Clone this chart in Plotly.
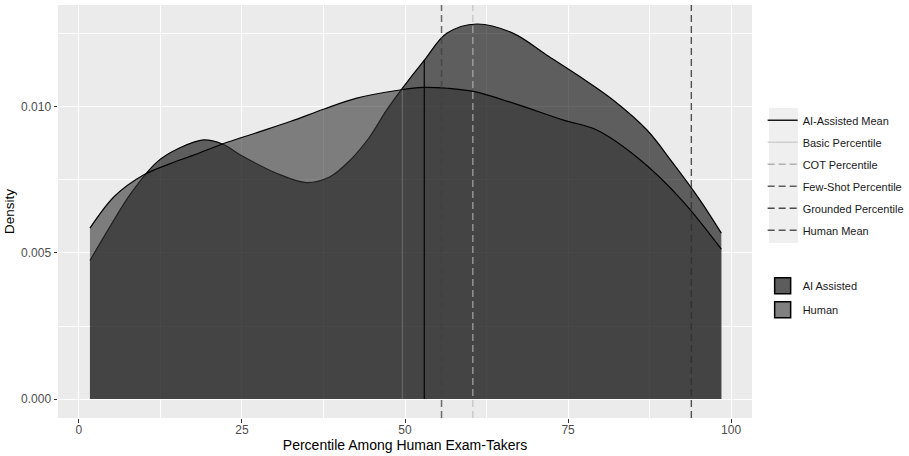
import plotly.graph_objects as go

# ---- data ----
ai_x = [1.7, 4.5, 8.0, 12.0, 15.5, 19.1, 22.0, 25.2, 30.3, 34.9, 38.5, 41.6, 44.6, 47.2, 49.5,
        53.0, 56.4, 61.0, 66.6, 71.7, 76.8, 81.9, 87.1, 91.0, 95.2, 98.5]
ai_y = [0.00474, 0.0058, 0.00705, 0.00812, 0.00860, 0.00887, 0.00873, 0.0083, 0.00773, 0.00741,
        0.00761, 0.00818, 0.00898, 0.0099, 0.01061, 0.01161, 0.01252, 0.01284, 0.01252,
        0.01178, 0.01104, 0.01024, 0.00921, 0.0081, 0.00682, 0.00568]

hu_x = [1.7, 5.5, 9.9, 14.0, 17.5, 22.0, 27.0, 32.4, 37.5, 42.6, 49.2, 52.8, 56.5, 60.5,
        66.6, 74.3, 79.4, 86.0, 92.4, 98.5]
hu_y = [0.00585, 0.00695, 0.00767, 0.00806, 0.00834, 0.00873, 0.0091, 0.0095,
        0.00992, 0.0103, 0.01058, 0.01067, 0.01064, 0.01053, 0.01013, 0.00955, 0.00921,
        0.0082, 0.00682, 0.00513]

line_names = ["AI-Assisted Mean", "Basic Percentile", "COT Percentile",
              "Few-Shot Percentile", "Grounded Percentile", "Human Mean"]
line_x = [52.96, 49.6, 60.4, 55.6, 93.9, 55.6]
# height of segment (None = full panel height)
line_top = [0.01161, 0.0106, None, None, None, None]

density_names = ["AI Assisted", "Human"]

x_range = [-3.2, 103.2]
y_range = [-0.00065, 0.01349]

# ---- styles ----
FONT = "Liberation Sans, Arial, Helvetica, sans-serif"
line_draw_color = ["rgba(0,0,0,0.82)", "rgba(150,150,150,0.4)", "rgba(186,186,186,0.72)",
                   "rgba(66,66,66,0.5)", "rgba(47,47,47,0.82)", "rgba(66,66,66,0.5)"]
line_key_color = ["#1a1a1a", "#cfcfcf", "#b0b0b0", "#5e5e5e", "#4a4a4a", "#555555"]
line_dash = ["solid", "solid", "7px,4px", "7px,4px", "7px,4px", "7px,4px"]
fill_colors = ["rgba(0,0,0,0.6)", "rgba(52,52,52,0.6)"]
fill_key_colors = ["#5c5c5c", "#808080"]

fig = go.Figure()

# densities
for name, xs, ys, fc in zip(density_names, [ai_x, hu_x], [ai_y, hu_y], fill_colors):
    fig.add_trace(go.Scatter(
        x=xs, y=ys, mode="lines", fill="tozeroy", fillcolor=fc,
        line=dict(color="black", width=1.2, shape="spline", smoothing=1.0),
        name=name, showlegend=False, hoverinfo="skip"))

# vertical reference lines
for name, xv, top, col, dash in zip(line_names, line_x, line_top, line_draw_color, line_dash):
    y0 = 0 if top is not None else y_range[0]
    y1 = top if top is not None else y_range[1]
    fig.add_trace(go.Scatter(
        x=[xv, xv], y=[y0, y1], mode="lines",
        line=dict(color=col, width=1.4, dash=dash),
        name=name, showlegend=False, hoverinfo="skip"))

# legend entries (lines)
for name, col, dash in zip(line_names, line_key_color, line_dash):
    fig.add_trace(go.Scatter(
        x=[None], y=[None], mode="lines", name=name, legendgroup=name, legend="legend",
        line=dict(color=col, width=1.4, dash=dash), showlegend=True))

# legend entries (fills)
for name, col in zip(density_names, fill_key_colors):
    fig.add_trace(go.Scatter(
        x=[None], y=[None], mode="markers", name=name, legendgroup=name, legend="legend2",
        marker=dict(symbol="square", size=18, color=col, line=dict(color="black", width=1.5)),
        showlegend=True))

axis_common = dict(
    showgrid=True, gridcolor="white", gridwidth=1.1, zeroline=False, showline=False,
    ticks="outside", ticklen=3.5, tickwidth=1, tickcolor="#333333",
    tickfont=dict(family=FONT, size=12, color="#4d4d4d"),
)

fig.update_layout(
    width=909, height=456,
    margin=dict(l=58, r=157, t=5, b=38),
    paper_bgcolor="white", plot_bgcolor="#EBEBEB",
    font=dict(family=FONT, color="black"),
    xaxis=dict(range=x_range, tick0=0, dtick=25, ticklabelstandoff=-3,
               minor=dict(dtick=12.5, showgrid=True, gridcolor="white", gridwidth=0.5),
               title=dict(text="Percentile Among Human Exam-Takers",
                          font=dict(family=FONT, size=14, color="black"), standoff=0),
               **axis_common),
    yaxis=dict(range=y_range, tick0=0, dtick=0.005, tickformat=".3f", ticklabelstandoff=0,
               minor=dict(dtick=0.0025, showgrid=True, gridcolor="white", gridwidth=0.5),
               title=dict(text="Density", font=dict(family=FONT, size=13.5, color="black"),
                          standoff=3),
               **axis_common),
    legend=dict(xref="container", yref="container", x=0.839, y=0.768,
                xanchor="left", yanchor="top", bgcolor="rgba(0,0,0,0)", borderwidth=0,
                font=dict(family=FONT, size=11, color="#1a1a1a"),
                tracegroupgap=3, itemwidth=30),
    legend2=dict(xref="container", yref="container", x=0.839, y=0.405,
                 xanchor="left", yanchor="top", bgcolor="rgba(0,0,0,0)", borderwidth=0,
                 font=dict(family=FONT, size=11, color="#1a1a1a"),
                 tracegroupgap=5, itemwidth=30, itemsizing="trace"),
    shapes=[dict(type="rect", xref="paper", yref="paper",
                 x0=1.0245, x1=1.0663, y0=0.4237, y1=0.7506,
                 fillcolor="#EFEFEF", line=dict(width=0), layer="below")],
)

fig.write_html("out.html", config={"displayModeBar": False},
               post_script="document.body.style.margin='0';document.body.style.padding='0';")
